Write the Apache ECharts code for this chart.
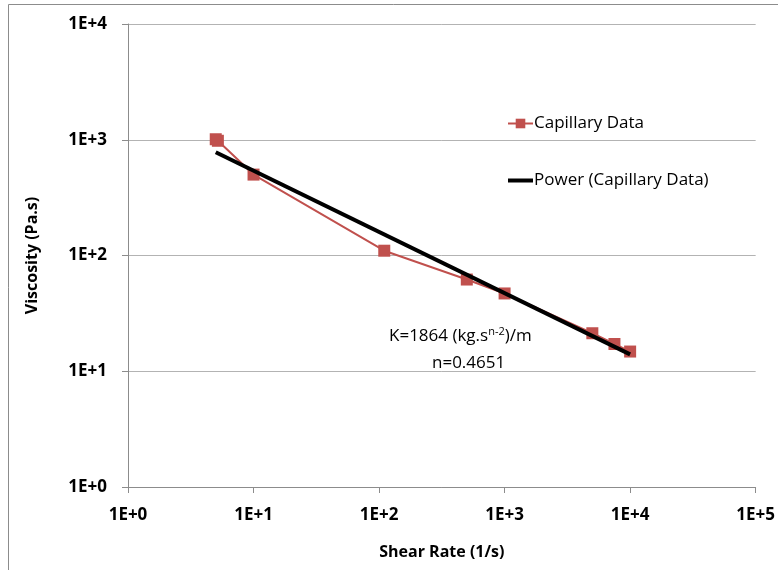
<!DOCTYPE html>
<html>
<head>
<meta charset="utf-8">
<script src="https://cdn.jsdelivr.net/npm/echarts@6/dist/echarts.min.js"></script>
<style>
  html, body { margin: 0; padding: 0; background: #fff; }
  #main { width: 778px; height: 570px; }
</style>
</head>
<body>
<div id="main"></div>
<script>
// shear rate (1/s) and viscosity (Pa.s)
const shearRate = [5, 5.2, 10, 110, 500, 1000, 5000, 7500, 10000];
const viscosity = [1010, 980, 500, 110, 62, 47, 21.3, 17.2, 14.8];

// power-law trendline end points
const fitX = [5, 10000];
const fitY = [780, 14];

const xTicks = ['1E+0', '1E+1', '1E+2', '1E+3', '1E+4', '1E+5'];
const yTicks = ['1E+0', '1E+1', '1E+2', '1E+3', '1E+4'];

const FONT = 'Open Sans';

const chart = echarts.init(document.getElementById('main'));

const tickLabel = (list) => (v) => list[Math.round(Math.log10(v))] || '';

let option = {
  animation: false,
  grid: {
    left: 128,
    right: 20,
    top: 24,
    bottom: 83
  },
  legend: {
    orient: 'vertical',
    left: 502,
    top: 110,
    itemGap: 40,
    itemWidth: 25,
    itemHeight: 12,
    textStyle: { fontFamily: FONT, fontSize: 17, color: '#000', padding: [0, 0, 0, -4] },
    data: [
      { name: 'Capillary Data' },
      { name: 'Power (Capillary Data)', icon: 'path://M0,0H25V4H0Z' }
    ]
  },
  xAxis: {
    type: 'log',
    logBase: 10,
    min: 1,
    max: 100000,
    name: 'Shear Rate (1/s)',
    nameLocation: 'middle',
    nameGap: 57,
    nameTextStyle: { fontFamily: FONT, fontSize: 16, fontWeight: 'bold', color: '#000' },
    axisLine: { lineStyle: { color: '#8c8c8c' } },
    axisTick: { lineStyle: { color: '#8c8c8c' }, length: 6 },
    minorTick: { show: false },
    splitLine: { show: false },
    axisLabel: {
      formatter: tickLabel(xTicks),
      fontFamily: FONT, fontSize: 17, fontWeight: 'bold', color: '#000', margin: 20
    }
  },
  yAxis: {
    type: 'log',
    logBase: 10,
    min: 1,
    max: 10000,
    name: 'Viscosity (Pa.s)',
    nameLocation: 'middle',
    nameGap: 88,
    nameTextStyle: { fontFamily: FONT, fontSize: 16, fontWeight: 'bold', color: '#000' },
    axisLine: { show: true, lineStyle: { color: '#8c8c8c' } },
    axisTick: { show: true, lineStyle: { color: '#8c8c8c' }, length: 6 },
    minorTick: { show: false },
    splitLine: { show: true, lineStyle: { color: '#b3b3b3', width: 1 } },
    axisLabel: {
      formatter: tickLabel(yTicks),
      fontFamily: FONT, fontSize: 17, fontWeight: 'bold', color: '#000', margin: 21
    }
  },
  series: [
    {
      name: 'Capillary Data',
      type: 'line',
      data: shearRate.map((x, i) => [x, viscosity[i]]),
      symbol: 'rect',
      symbolSize: 12,
      itemStyle: { color: '#c0504d' },
      lineStyle: { color: '#c0504d', width: 2 },
      z: 2
    },
    {
      name: 'Power (Capillary Data)',
      type: 'line',
      data: fitX.map((x, i) => [x, fitY[i]]),
      symbol: 'none',
      itemStyle: { color: '#000' },
      lineStyle: { color: '#000', width: 4 },
      z: 3
    }
  ],
  graphic: [
    {
      type: 'rect',
      shape: { x: 8.5, y: 4.5, width: 800, height: 600 },
      style: { fill: 'none', stroke: '#8c8c8c', lineWidth: 1 },
      silent: true,
      z: -1
    },
    {
      type: 'text',
      left: 389,
      top: 326,
      style: {
        text: '{b|K=1864 (kg.s}{s|n-2}{b|)/m}',
        rich: {
          b: { fontFamily: FONT, fontSize: 17, color: '#000' },
          s: { fontFamily: FONT, fontSize: 11, color: '#000', padding: [0, 0, 9, 0] }
        }
      },
      z: 10
    },
    {
      type: 'text',
      left: 432,
      top: 355,
      style: { text: 'n=0.4651', fontFamily: FONT, fontSize: 17, fill: '#000' },
      z: 10
    }
  ]
};

chart.setOption(option);
</script>
</body>
</html>
